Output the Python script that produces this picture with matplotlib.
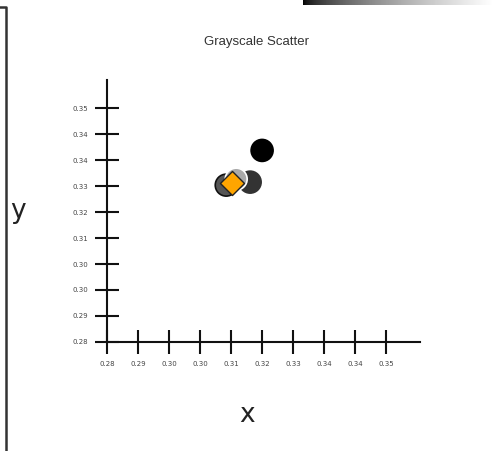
import numpy as np
import matplotlib
matplotlib.use("Agg")
import matplotlib.pyplot as plt
from matplotlib.lines import Line2D

# Dữ liệu các điểm
circle_x = [0.3189, 0.3159, 0.3099, 0.3124]
circle_y = [0.3374, 0.3279, 0.3270, 0.3288]
circle_face = ["#000000", "#333333", "#555555", "#aaaaaa"]
circle_edge = ["#000000", "#333333", "#111111", "#ffffff"]

diamond_x = [0.3114]
diamond_y = [0.3276]

tick_vals = [0.28, 0.2878, 0.2956, 0.3033, 0.3111, 0.3189, 0.3267, 0.3344, 0.3422, 0.35]
x_tick_labels = ["0.28", "0.29", "0.30", "0.30", "0.31", "0.32", "0.33", "0.34", "0.34", "0.35"]
y_tick_labels = ["0.28", "0.29", "0.30", "0.30", "0.31", "0.32", "0.33", "0.34", "0.34", "0.35"]

fig = plt.figure(figsize=(4.98, 4.51), dpi=100)
W, H = 498, 451

ax = fig.add_axes([107 / W, 1 - 342 / H, (420 - 107) / W, (342 - 80) / H])

ax.scatter(circle_x, circle_y, s=250, c=circle_face, edgecolors=circle_edge,
           linewidths=1.2, zorder=3)
ax.scatter(diamond_x, diamond_y, s=150, marker="D", c="#ffa500",
           edgecolors="#222222", linewidths=1.0, zorder=4)

ax.set_xlim(0.28, 0.3585)
ax.set_ylim(0.28, 0.3585)
ax.set_xticks(tick_vals)
ax.set_xticklabels(x_tick_labels)
ax.set_yticks(tick_vals)
ax.set_yticklabels(y_tick_labels)

for s in ["top", "right"]:
    ax.spines[s].set_visible(False)
for s in ["left", "bottom"]:
    ax.spines[s].set_linewidth(1.5)
    ax.spines[s].set_color("#111111")

ax.tick_params(direction="inout", length=17, width=1.5, color="#111111",
               labelsize=5, labelcolor="#444444")
ax.tick_params(axis="x", pad=5)
ax.tick_params(axis="y", pad=5)

fig.text(257 / W, 1 - 42 / H, "Grayscale Scatter", ha="center", va="center",
         fontsize=9.5, color="#333333", family="Liberation Sans")
fig.text(247 / W, 1 - 415 / H, "x", ha="center", va="center",
         fontsize=19, color="#222222")
fig.text(18 / W, 1 - 211 / H, "y", ha="center", va="center",
         fontsize=19, color="#222222")

# Viền trái
fig.add_artist(Line2D([0, 5.5 / W, 5.5 / W], [1 - 7 / H, 1 - 7 / H, 0],
                      transform=fig.transFigure, color="#333333", lw=1.8))

# Thanh gradient phía trên
gax = fig.add_axes([303 / W, 1 - 5 / H, (492 - 303) / W, 5 / H])
grad = np.linspace(0, 1, 256) ** 0.6
gax.imshow(grad[np.newaxis, :], aspect="auto", cmap="gray")
gax.axis("off")

fig.savefig("out.png", dpi=100)
